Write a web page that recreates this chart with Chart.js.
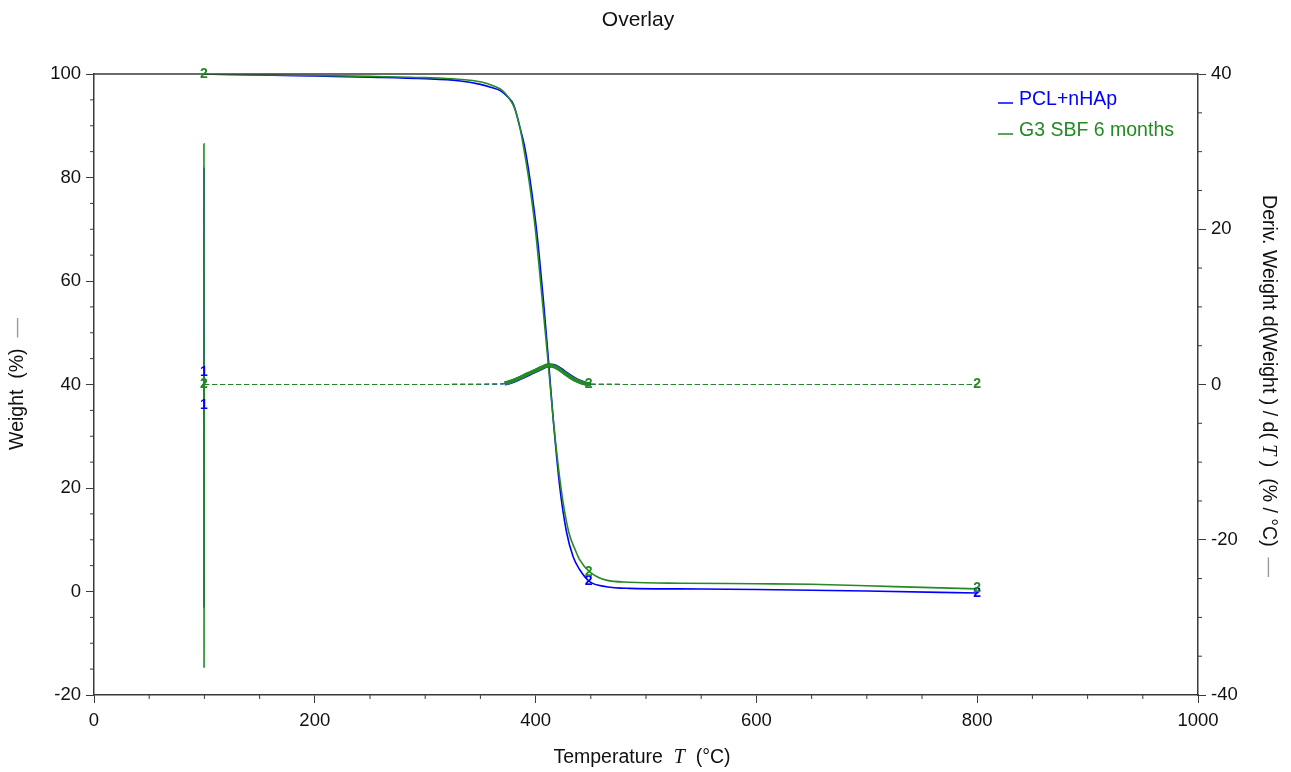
<!DOCTYPE html>
<html>
<head>
<meta charset="utf-8">
<title>Overlay</title>
<script src="https://cdn.jsdelivr.net/npm/chart.js@4.4.1/dist/chart.umd.min.js"></script>
<style>
  html, body { margin: 0; padding: 0; background: #fff; }
  #tga { display: block; }
</style>
</head>
<body>
<canvas id="tga" width="1291" height="772"></canvas>
<script>
// weight loss curves (left axis, %)
const tempPcl = [99.5, 150, 200, 250, 300, 330, 350, 360, 368, 375, 380, 386, 390, 395, 401, 407, 411.5, 416, 422, 428, 434, 440, 449, 464, 485, 530, 600, 700, 800];
const weightPcl = [100, 99.8, 99.6, 99.4, 99.1, 98.7, 98.0, 97.4, 96.8, 95.5, 94.1, 89.5, 86, 79.5, 69.6, 56.4, 45.1, 33.2, 20, 11.5, 6.7, 4.2, 1.9, 0.93, 0.6, 0.5, 0.4, 0.1, -0.3];

const tempSbf = [99.5, 150, 200, 250, 300, 330, 350, 362, 370, 376, 381, 386, 389, 394, 400, 406, 411, 416, 423, 430, 436, 440, 449, 464, 485, 531, 600, 650, 700, 750, 800];
const weightSbf = [100, 99.85, 99.7, 99.55, 99.3, 99.0, 98.5, 97.7, 96.8, 95.3, 93.4, 89.5, 86, 79.5, 69.6, 56.4, 45.1, 33.2, 20, 11.5, 8, 6.1, 3.8, 2.2, 1.8, 1.6, 1.5, 1.4, 1.1, 0.8, 0.5];

// derivative curves (right axis, %/°C)
const tempDeriv = [99.5, 99.6, 99.7, 99.8, 200, 300, 360, 372, 378, 385, 392, 400, 406, 411, 415, 420, 426, 432, 438, 444, 450, 500, 600, 700, 800];
const derivPcl = [0, 28, -28.8, 0, 0, 0, 0.04, 0.12, 0.35, 0.75, 1.2, 1.75, 2.15, 2.45, 2.45, 2.2, 1.6, 1.0, 0.5, 0.18, 0.04, 0, 0, 0, 0];
const derivSbf = [0, 31, -36.5, 0, 0, 0, 0.05, 0.15, 0.4, 0.8, 1.3, 1.8, 2.2, 2.45, 2.4, 2.1, 1.5, 0.9, 0.45, 0.15, 0.03, 0, 0, 0, 0];

// curve number tags: [temp, value, axis, text, series]
const curveTags = [
  [99.5, 100, 'y', '2', 1],
  [99.5, 1.6, 'y2', '1', 0],
  [99.5, -2.6, 'y2', '1', 0],
  [99.5, 0, 'y2', '2', 1],
  [448, 0, 'y2', '2', 1],
  [800, 0, 'y2', '2', 1],
  [448, 2.0, 'y', '2', 0],
  [448, 3.8, 'y', '2', 1],
  [800, -0.4, 'y', '2', 0],
  [800, 0.6, 'y', '2', 1]
];

const seriesNames = ['PCL+nHAp', 'G3 SBF 6 months'];
const seriesColors = ['#0000ff', '#228b22'];

const xTicks = [0, 200, 400, 600, 800, 1000];
const axisColor = '#3a3a3a';
const font = 'Liberation Sans, Arial, Helvetica, sans-serif';

const toPoints = (xs, ys) => xs.map((x, i) => ({ x: x, y: ys[i] }));

// spike and peak region of the derivative look solid and heavy
const spikePart = (ctx) => ctx.p1.parsed.x <= 99.8;
const bumpPart = (ctx) => ctx.p0.parsed.x >= 372 && ctx.p1.parsed.x <= 450;

function derivDataset(label, xs, ys, color, order) {
  return {
    label: label,
    data: toPoints(xs, ys),
    yAxisID: 'y2',
    borderColor: color,
    borderWidth: 1.2,
    borderDash: [5, 3],
    pointRadius: 0,
    cubicInterpolationMode: 'monotone',
    order: order,
    segment: {
      borderDash: (ctx) => (spikePart(ctx) || bumpPart(ctx)) ? [] : [5, 3],
      borderWidth: (ctx) => bumpPart(ctx) ? 4 : (spikePart(ctx) ? 1.6 : 1.2)
    }
  };
}

function drawTitleRuns(ctx, runs, x, y, angle) {
  ctx.save();
  ctx.translate(x, y);
  ctx.rotate(angle);
  let total = 0;
  runs.forEach((r) => { ctx.font = r.font; total += ctx.measureText(r.text).width; });
  let cx = -total / 2;
  ctx.textBaseline = 'middle';
  ctx.textAlign = 'left';
  runs.forEach((r) => {
    ctx.font = r.font;
    ctx.fillStyle = r.color || '#111';
    ctx.fillText(r.text, cx, 0);
    cx += ctx.measureText(r.text).width;
  });
  ctx.restore();
}

const decorPlugin = {
  id: 'decor',
  afterDraw(chart) {
    const ctx = chart.ctx;
    const area = chart.chartArea;
    const sx = chart.scales.x, sy = chart.scales.y, sy2 = chart.scales.y2;

    ctx.save();
    // top frame line
    ctx.strokeStyle = axisColor;
    ctx.lineWidth = 1.5;
    ctx.beginPath();
    ctx.moveTo(area.left, area.top);
    ctx.lineTo(area.right, area.top);
    ctx.stroke();

    // minor ticks
    ctx.lineWidth = 1;
    ctx.beginPath();
    for (let v = 50; v < 1000; v += 50) {
      if (v % 200 === 0) continue;
      const px = sx.getPixelForValue(v);
      ctx.moveTo(px, area.bottom);
      ctx.lineTo(px, area.bottom + 4);
    }
    for (let v = -15; v < 100; v += 5) {
      if (v % 20 === 0) continue;
      const py = sy.getPixelForValue(v);
      ctx.moveTo(area.left, py);
      ctx.lineTo(area.left - 4, py);
    }
    for (let v = -35; v < 40; v += 5) {
      if (v % 20 === 0) continue;
      const py = sy2.getPixelForValue(v);
      ctx.moveTo(area.right, py);
      ctx.lineTo(area.right + 4, py);
    }
    ctx.stroke();

    // curve number tags
    ctx.font = 'bold 14px ' + font;
    ctx.textAlign = 'center';
    ctx.textBaseline = 'middle';
    curveTags.forEach(([t, v, axis, text, s]) => {
      ctx.fillStyle = seriesColors[s];
      ctx.fillText(text, sx.getPixelForValue(t), chart.scales[axis].getPixelForValue(v));
    });

    // legend
    ctx.font = '19.5px ' + font;
    ctx.textAlign = 'left';
    seriesNames.forEach((name, i) => {
      const ly = 100 + i * 31;
      ctx.strokeStyle = seriesColors[i];
      ctx.lineWidth = 1.5;
      ctx.beginPath();
      ctx.moveTo(998, ly + 3);
      ctx.lineTo(1013, ly + 3);
      ctx.stroke();
      ctx.fillStyle = seriesColors[i];
      ctx.fillText(name, 1019, ly);
    });

    // chart and axis titles
    ctx.fillStyle = '#111';
    ctx.font = '21px ' + font;
    ctx.textAlign = 'center';
    ctx.fillText('Overlay', 638, 20);

    const plain = '19.5px ' + font;
    const ital = 'italic 20px "Liberation Serif", "DejaVu Serif", serif';
    drawTitleRuns(ctx, [
      { text: 'Temperature  ', font: plain },
      { text: 'T', font: ital },
      { text: '  (°C)', font: plain }
    ], 642, 758, 0);

    drawTitleRuns(ctx, [
      { text: 'Weight  (%)  ', font: plain },
      { text: '—', font: plain, color: '#999' }
    ], 18, 384, -Math.PI / 2);

    drawTitleRuns(ctx, [
      { text: 'Deriv. Weight d(Weight ) / d( ', font: plain },
      { text: 'T', font: ital },
      { text: ' )  (% / °C)  ', font: plain },
      { text: '—', font: plain, color: '#999' }
    ], 1268, 386, Math.PI / 2);
    ctx.restore();
  }
};

const sideGrid = {
  drawOnChartArea: false,
  drawTicks: true,
  tickLength: 8,
  color: axisColor,
  lineWidth: 1
};
const sideBorder = { display: true, color: axisColor, width: 1.5 };
const tickFont = { family: font, size: 18.5 };
const plainNumber = (v) => String(v);

new Chart(document.getElementById('tga'), {
  type: 'line',
  data: {
    datasets: [
      {
        label: seriesNames[0],
        data: toPoints(tempPcl, weightPcl),
        yAxisID: 'y',
        borderColor: seriesColors[0],
        borderWidth: 1.6,
        pointRadius: 0,
        cubicInterpolationMode: 'monotone',
        order: 3
      },
      {
        label: seriesNames[1],
        data: toPoints(tempSbf, weightSbf),
        yAxisID: 'y',
        borderColor: seriesColors[1],
        borderWidth: 1.6,
        pointRadius: 0,
        cubicInterpolationMode: 'monotone',
        order: 2
      },
      derivDataset(seriesNames[0] + ' deriv', tempDeriv, derivPcl, seriesColors[0], 1),
      derivDataset(seriesNames[1] + ' deriv', tempDeriv, derivSbf, seriesColors[1], 0)
    ]
  },
  options: {
    responsive: false,
    animation: false,
    devicePixelRatio: 1,
    layout: { padding: { top: 74, left: 0, right: 0, bottom: 0 } },
    plugins: {
      legend: { display: false },
      title: { display: false },
      tooltip: { enabled: false }
    },
    scales: {
      x: {
        type: 'linear',
        position: 'bottom',
        min: 0,
        max: 1000,
        afterBuildTicks: (scale) => { scale.ticks = xTicks.map((v) => ({ value: v })); },
        ticks: { font: tickFont, color: '#111', padding: 7, maxRotation: 0, callback: plainNumber },
        grid: sideGrid,
        border: sideBorder,
        afterFit: (scale) => { scale.height = 77; }
      },
      y: {
        position: 'left',
        min: -20,
        max: 100,
        ticks: { stepSize: 20, font: tickFont, color: '#111', padding: 5, callback: plainNumber },
        grid: sideGrid,
        border: sideBorder,
        afterFit: (scale) => { scale.width = 94; }
      },
      y2: {
        position: 'right',
        min: -40,
        max: 40,
        ticks: { stepSize: 20, font: tickFont, color: '#111', padding: 5, callback: plainNumber },
        grid: sideGrid,
        border: sideBorder,
        afterFit: (scale) => { scale.width = 93; }
      }
    }
  },
  plugins: [decorPlugin]
});
</script>
</body>
</html>
